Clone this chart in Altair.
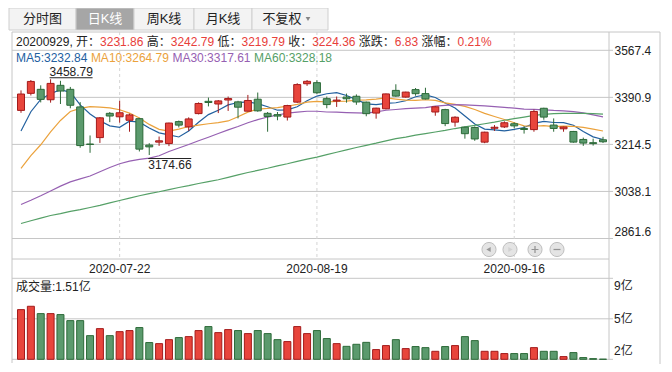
import altair as alt
import pandas as pd

# ---------------- data ----------------
dates = [
    "2020-07-08", "2020-07-09", "2020-07-10", "2020-07-13", "2020-07-14", "2020-07-15", "2020-07-16",
    "2020-07-17", "2020-07-20", "2020-07-21", "2020-07-22", "2020-07-23", "2020-07-24", "2020-07-27",
    "2020-07-28", "2020-07-29", "2020-07-30", "2020-07-31",
    "2020-08-03", "2020-08-04", "2020-08-05", "2020-08-06", "2020-08-07", "2020-08-10", "2020-08-11",
    "2020-08-12", "2020-08-13", "2020-08-14", "2020-08-17", "2020-08-18", "2020-08-19", "2020-08-20",
    "2020-08-21", "2020-08-24", "2020-08-25", "2020-08-26", "2020-08-27", "2020-08-28", "2020-08-31",
    "2020-09-01", "2020-09-02", "2020-09-03", "2020-09-04", "2020-09-07", "2020-09-08", "2020-09-09",
    "2020-09-10", "2020-09-11", "2020-09-14", "2020-09-15", "2020-09-16", "2020-09-17", "2020-09-18",
    "2020-09-21", "2020-09-22", "2020-09-23", "2020-09-24", "2020-09-25", "2020-09-28", "2020-09-29",
]
opens = [3342, 3406, 3421, 3382, 3436, 3421, 3355, 3216, 3240, 3331,
         3318, 3305, 3311, 3212, 3223, 3218, 3300, 3280, 3330, 3376,
         3366, 3381, 3374, 3339, 3384, 3331, 3326, 3317, 3373, 3442,
         3446, 3386, 3377, 3392, 3395, 3373, 3332, 3348, 3417, 3392,
         3420, 3405, 3336, 3345, 3298, 3279, 3278, 3223, 3275, 3280,
         3292, 3274, 3270, 3350, 3287, 3273, 3263, 3233, 3221, 3231.86]
highs = [3417, 3456, 3436, 3458.79, 3453, 3430, 3373, 3248, 3317, 3336,
         3378, 3330, 3314, 3219, 3244, 3296, 3304, 3316, 3372, 3390,
         3381, 3394, 3378, 3400, 3409, 3336, 3336, 3363, 3444, 3456,
         3455, 3394, 3394, 3405, 3402, 3375, 3352, 3405, 3440, 3412,
         3426, 3427, 3358, 3348, 3320, 3281, 3282, 3262, 3287, 3301,
         3297, 3283, 3345, 3352, 3312, 3281, 3265, 3240, 3236, 3242.79]
lows = [3333, 3398, 3372, 3371, 3366, 3350, 3202, 3183, 3220, 3298,
        3296, 3262, 3188, 3174.66, 3209, 3208, 3278, 3265, 3327, 3357,
        3332, 3340, 3312, 3338, 3337, 3262, 3305, 3304, 3370, 3434,
        3404, 3350, 3355, 3371, 3363, 3320, 3311, 3346, 3393, 3390,
        3397, 3383, 3322, 3283, 3281, 3236, 3228, 3219, 3265, 3276,
        3275, 3255, 3262, 3307, 3262, 3262, 3221, 3209, 3210, 3219.79]
closes = [3403.44, 3450.59, 3383.32, 3443.29, 3414.62, 3361.30, 3210.10, 3214.13, 3314.15, 3320.90,
          3333.16, 3325.11, 3196.77, 3205.23, 3227.96, 3294.55, 3286.82, 3310.01, 3367.97, 3371.69,
          3377.56, 3386.46, 3354.04, 3379.25, 3340.29, 3319.27, 3320.73, 3360.10, 3438.80, 3451.09,
          3408.13, 3363.90, 3380.68, 3385.64, 3373.58, 3329.74, 3350.44, 3403.81, 3395.68, 3410.61,
          3404.80, 3384.98, 3355.37, 3292.59, 3316.42, 3254.63, 3234.82, 3260.35, 3278.81, 3295.68,
          3283.92, 3270.44, 3338.09, 3316.94, 3274.30, 3279.71, 3223.18, 3219.42, 3217.53, 3224.36]
volumes = [6.10, 6.41, 5.73, 5.73, 5.64, 5.08, 5.08, 3.69, 4.34, 3.69,
           4.06, 4.16, 4.44, 3.05, 2.95, 3.32, 3.51, 3.60, 4.16, 4.53,
           3.97, 4.25, 4.16, 3.88, 4.16, 3.88, 3.32, 3.14, 4.53, 3.88,
           4.16, 3.42, 2.95, 2.70, 2.89, 3.07, 2.40, 2.77, 3.32, 2.49,
           2.68, 2.58, 2.24, 2.68, 2.77, 3.60, 3.23, 2.24, 2.24, 2.03,
           2.03, 2.03, 2.58, 2.24, 2.24, 1.75, 2.12, 1.66, 1.56, 1.51]
ma5 = [3265.0, 3337.0, 3383.1, 3405.2, 3419.1, 3410.6, 3362.5, 3328.7, 3302.9, 3284.1,
       3278.5, 3301.5, 3298.0, 3276.2, 3257.6, 3249.9, 3242.3, 3264.9, 3297.5, 3326.2,
       3342.8, 3362.7, 3371.5, 3373.8, 3367.5, 3355.9, 3342.7, 3343.9, 3355.8, 3378.0,
       3395.8, 3404.4, 3408.5, 3397.9, 3382.4, 3366.7, 3364.0, 3368.6, 3370.7, 3378.1,
       3393.1, 3400.0, 3390.3, 3369.7, 3350.8, 3320.8, 3290.8, 3271.8, 3269.0, 3264.9,
       3270.7, 3277.8, 3293.4, 3301.0, 3296.7, 3295.9, 3286.4, 3262.7, 3242.8, 3232.84]
ma10 = [3124.7, 3172.7, 3213.1, 3261.3, 3304.3, 3337.8, 3349.8, 3355.9, 3354.0, 3351.6,
        3344.6, 3332.0, 3313.4, 3289.5, 3270.9, 3264.2, 3271.9, 3281.5, 3286.8, 3291.9,
        3296.4, 3302.5, 3318.2, 3335.6, 3346.9, 3349.3, 3352.7, 3357.7, 3364.8, 3372.8,
        3375.8, 3373.6, 3376.2, 3376.9, 3380.2, 3381.2, 3384.2, 3388.6, 3384.3, 3380.2,
        3379.9, 3382.0, 3379.5, 3370.2, 3364.4, 3356.9, 3345.4, 3331.0, 3319.3, 3307.8,
        3295.8, 3284.3, 3282.6, 3285.0, 3280.8, 3283.3, 3282.1, 3278.0, 3271.9, 3264.79]
ma30 = [2989, 3005, 3022, 3040, 3058, 3074, 3085, 3096, 3112, 3128,
        3142, 3152, 3158, 3163, 3172, 3188, 3201, 3214, 3228.0, 3241.5,
        3255.2, 3269.1, 3281.6, 3295.5, 3307.3, 3317.1, 3324.8, 3331.7, 3335.2, 3338.8,
        3338.9, 3336.0, 3335.9, 3334.0, 3332.6, 3331.6, 3336.3, 3342.6, 3345.3, 3348.3,
        3350.7, 3352.7, 3358.0, 3360.9, 3363.8, 3362.5, 3360.8, 3359.1, 3356.1, 3353.6,
        3350.5, 3346.6, 3346.1, 3344.0, 3341.8, 3340.5, 3337.2, 3332.6, 3325.2, 3317.61]
ma60 = [2918, 2928, 2938, 2948, 2955, 2963, 2970, 2978, 2986, 2995,
        3004, 3013, 3022, 3030, 3037, 3045, 3053, 3060, 3068, 3075,
        3082, 3091, 3100, 3109, 3117, 3125, 3134, 3142, 3151, 3159,
        3167, 3176, 3185, 3194, 3203, 3211, 3219, 3228, 3236, 3242,
        3249, 3255, 3261, 3267, 3274, 3280, 3286, 3292, 3298, 3305,
        3311, 3317, 3323, 3327, 3330, 3331, 3331, 3331, 3330, 3328.18]

price_ticks = [3567.4, 3390.9, 3214.5, 3038.1, 2861.6]
vol_ticks = [9.0, 5.25, 1.5]
vol_tick_labels = ["9亿", "5亿", "2亿"]
date_labels = ["2020-07-22", "2020-08-19", "2020-09-16"]
tab_labels = ["分时图", "日K线", "周K线", "月K线", "不复权"]
ma_names = ["MA5", "MA10", "MA30", "MA60"]

# ---------------- styles ----------------
FONT = "Liberation Sans, Noto Sans CJK SC, sans-serif"
RED_FILL, RED_LINE = "#e8453c", "#a31b1b"
GRN_FILL, GRN_LINE = "#5b9a6d", "#2c6a38"
MA_COLORS = ["#22609f", "#eba23c", "#9660b2", "#55a067"]
GRID = "#c6c6c6"
DARK = "#222222"
TXT_RED = "#e8403a"

df = pd.DataFrame(dict(date=dates, open=opens, high=highs, low=lows, close=closes, vol=volumes))
df["dir"] = ["up" if c >= o else "down" for o, c in zip(opens, closes)]

ma_df = pd.concat([
    pd.DataFrame(dict(date=dates, value=vals, ma=name))
    for name, vals in zip(ma_names, [ma5, ma10, ma30, ma60])
])

X = alt.X("date:O", scale=alt.Scale(type="point", domain=dates, range=[13, 595], padding=0), axis=None)
PY = alt.Scale(domain=[2861.6, 3567.4], range=[230.5, 42.3], nice=False, zero=False)
VY = alt.Scale(domain=[1.5, 9.0], range=[351.3, 270.3], nice=False, zero=False)
FILL = alt.Fill("dir:N", scale=alt.Scale(domain=["up", "down"], range=[RED_FILL, GRN_FILL]), legend=None)
STROKE = alt.Stroke("dir:N", scale=alt.Scale(domain=["up", "down"], range=[RED_LINE, GRN_LINE]), legend=None)

ONE = pd.DataFrame({"k": [1]})


def vtext(txt, x, y, color=DARK, size=12, align="left", baseline="middle"):
    return alt.Chart(ONE).mark_text(text=txt, align=align, baseline=baseline, color=color,
                                    fontSize=size, font=FONT).encode(x=alt.value(x), y=alt.value(y))


def vline(x1, y1, x2, y2, color=GRID, dash=None):
    kw = dict(color=color, strokeWidth=1)
    if dash:
        kw["strokeDash"] = dash
    return alt.Chart(ONE).mark_rule(**kw).encode(
        x=alt.value(x1), y=alt.value(y1), x2=alt.value(x2), y2=alt.value(y2))


def vrect(x1, y1, x2, y2, fill, stroke):
    return alt.Chart(ONE).mark_rect(fill=fill, stroke=stroke, strokeWidth=1).encode(
        x=alt.value(x1), y=alt.value(y1), x2=alt.value(x2), y2=alt.value(y2))


CHAR_W = {".": 0.278, ",": 0.278, " ": 0.278, ":": 0.278, "%": 0.889, "M": 0.833, "A": 0.667, "K": 0.667}


def tw(s, size=12):
    w = 0
    for ch in s:
        if ord(ch) > 0x2E80:
            w += 1.0
        else:
            w += CHAR_W.get(ch, 0.556)
    return w * size


def segments(segs, x0, y, gap=0.0):
    layers = []
    cur = x0
    for s, col in segs:
        lead = len(s) - len(s.lstrip(" "))
        layers.append(vtext(s.strip(), cur + tw(" " * lead), y, color=col))
        cur += tw(s) + gap
    return layers


# ---------------- background decorations ----------------
back = []
tab_edges = [1, 68, 126, 186, 244, 320]
for i, lab in enumerate(tab_labels):
    sel = (i == 1)
    back.append(vrect(tab_edges[i], 0, tab_edges[i + 1], 22, "#a6a6a6" if sel else "#f3f3f3", "#cfcfcf"))
    cx = (tab_edges[i] + tab_edges[i + 1]) / 2
    if lab == "不复权":
        cx -= 8
    back.append(vtext(lab, cx, 11, color="#ffffff" if sel else DARK, size=13, align="center"))
back.append(alt.Chart(ONE).mark_point(shape="triangle-down", filled=True, size=22, color="#555555")
            .encode(x=alt.value(300), y=alt.value(11)))
# frame
back += [
    vline(4, 24, 652, 24),
    vline(4, 24, 4, 355),
    vline(652, 24, 652, 356),
    vline(601, 24, 601, 352),
    vline(4, 251, 601, 251),
]

# ---------------- price panel ----------------
pt_df = pd.DataFrame({"v": price_ticks})
dl_df = pd.DataFrame({"date": date_labels})

grid = alt.Chart(pt_df).mark_rule(color=GRID, strokeWidth=1).encode(
    y=alt.Y("v:Q", scale=PY, axis=None), x=alt.value(4), x2=alt.value(605))
plab_mid = alt.Chart(pt_df).transform_filter("datum.v > 2900").mark_text(
    align="left", baseline="middle", dy=1, font=FONT, fontSize=12, color=DARK).encode(
    y=alt.Y("v:Q", scale=PY, axis=None), x=alt.value(606.5), text=alt.Text("v:Q", format=".1f"))
plab_low = alt.Chart(pt_df).transform_filter("datum.v <= 2900").mark_text(
    align="left", baseline="bottom", dy=0, font=FONT, fontSize=12, color=DARK).encode(
    y=alt.Y("v:Q", scale=PY, axis=None), x=alt.value(606.5), text=alt.Text("v:Q", format=".1f"))
dash = alt.Chart(dl_df).mark_rule(color="#d4d4d4", strokeDash=[3, 3], strokeWidth=1).encode(
    x=X, y=alt.value(24), y2=alt.value(251))
dlab = alt.Chart(dl_df).mark_text(font=FONT, fontSize=12, color=DARK, baseline="middle").encode(
    x=X, y=alt.value(260.5), text="date:N")
ma_lines = alt.Chart(ma_df).mark_line(strokeWidth=1.2).encode(
    x=X, y=alt.Y("value:Q", scale=PY, axis=None),
    color=alt.Color("ma:N", scale=alt.Scale(domain=ma_names, range=MA_COLORS), legend=None))
wicks = alt.Chart(df).mark_rule(strokeWidth=1).encode(
    x=X, y=alt.Y("low:Q", scale=PY, axis=None), y2="high:Q", stroke=STROKE)
bodies = alt.Chart(df).mark_bar(size=7, strokeWidth=1).encode(
    x=X, y=alt.Y("open:Q", scale=PY, axis=None), y2="close:Q", fill=FILL, stroke=STROKE)

hi = max(range(len(highs)), key=lambda i: highs[i])
lo = min(range(len(lows)), key=lambda i: lows[i])
hi_df = pd.DataFrame({"date": [dates[hi]], "val": [highs[hi]], "label": [f"{highs[hi]:.2f}"]})
lo_df = pd.DataFrame({"date": [dates[lo]], "val": [lows[lo]], "label": [f"{lows[lo]:.2f}"]})
hi_txt = alt.Chart(hi_df).mark_text(align="left", baseline="bottom", dx=-1, dy=-0.5, font=FONT,
                                    fontSize=12, color=DARK).encode(
    x=X, y=alt.Y("val:Q", scale=PY, axis=None), text="label:N")
hi_line = alt.Chart(hi_df).mark_rule(color=DARK, strokeWidth=1, xOffset=-1, x2Offset=42, yOffset=-1.5).encode(
    x=X, x2="date:O", y=alt.Y("val:Q", scale=PY, axis=None))
lo_txt = alt.Chart(lo_df).mark_text(align="left", baseline="top", dx=-1, dy=5, font=FONT,
                                    fontSize=12, color=DARK).encode(
    x=X, y=alt.Y("val:Q", scale=PY, axis=None), text="label:N")
lo_line = alt.Chart(lo_df).mark_rule(color=DARK, strokeWidth=1, xOffset=-1, x2Offset=42, yOffset=3.5).encode(
    x=X, x2="date:O", y=alt.Y("val:Q", scale=PY, axis=None))

price = alt.layer(grid, plab_mid, plab_low, dash, dlab, ma_lines, wicks, bodies,
                  hi_line, hi_txt, lo_line, lo_txt)

# ---------------- volume panel ----------------
vt_df = pd.DataFrame({"v": vol_ticks, "label": vol_tick_labels, "pos": ["top", "mid", "bot"]})
vgrid = alt.Chart(vt_df).mark_rule(color=GRID, strokeWidth=1).encode(
    y=alt.Y("v:Q", scale=VY, axis=None), x=alt.value(4), x2=alt.value(605))
vlabs = []
for pos, base, dy in [("top", "top", 3), ("mid", "middle", 0), ("bot", "bottom", -1)]:
    vlabs.append(alt.Chart(vt_df).transform_filter(f"datum.pos == '{pos}'").mark_text(
        align="left", baseline=base, dy=dy, font=FONT, fontSize=12, color=DARK).encode(
        y=alt.Y("v:Q", scale=VY, axis=None), x=alt.value(606), text="label:N"))
vbars = alt.Chart(df).mark_bar(size=7, strokeWidth=1).encode(
    x=X, y=alt.Y("vol:Q", scale=VY, axis=None), y2=alt.datum(1.5), fill=FILL, stroke=STROKE)
volume = alt.layer(vgrid, *vlabs, vbars)

# ---------------- foreground texts ----------------
last = len(dates) - 1
chg = closes[last] - closes[last - 1]
pct = chg / closes[last - 1] * 100
info = [
    (f"{dates[last].replace('-', '')}, 开：", DARK), (f"{opens[last]:.2f}", TXT_RED),
    (" 高：", DARK), (f"{highs[last]:.2f}", TXT_RED),
    (" 低：", DARK), (f"{lows[last]:.2f}", TXT_RED),
    (" 收：", DARK), (f"{closes[last]:.2f}", TXT_RED),
    (" 涨跌：", DARK), (f"{chg:.2f}", TXT_RED),
    (" 涨幅：", DARK), (f"{pct:.2f}%", TXT_RED),
]
front = segments(info, 8, 33.7)
ma_segs = [(f"{n}:{v[-1]:.2f}", c) for n, v, c in zip(ma_names, [ma5, ma10, ma30, ma60], MA_COLORS)]
front += segments(ma_segs, 8, 50, gap=3.5)
front.append(vtext(f"成交量:{volumes[last]:.2f}亿", 8, 279.3))

# navigation buttons
for bx in [481, 502, 527, 549]:
    front.append(alt.Chart(ONE).mark_point(shape="circle", filled=True, size=200, fill="#e4e4e4",
                                           stroke="#bfbfbf", strokeWidth=1, opacity=1)
                 .encode(x=alt.value(bx), y=alt.value(241.5)))
front.append(alt.Chart(ONE).mark_point(shape="triangle-left", filled=True, size=26, color="#979797", opacity=1)
             .encode(x=alt.value(480.5), y=alt.value(241.5)))
front.append(alt.Chart(ONE).mark_point(shape="triangle-right", filled=True, size=26, color="#d2d2d2", opacity=1)
             .encode(x=alt.value(502.5), y=alt.value(241.5)))
PLUS = "M-1,-0.18H-0.18V-1H0.18V-0.18H1V0.18H0.18V1H-0.18V0.18H-1Z"
MINUS = "M-1,-0.18H1V0.18H-1Z"
front.append(alt.Chart(ONE).mark_point(shape=PLUS, filled=True, size=48, color="#939393", opacity=1)
             .encode(x=alt.value(527), y=alt.value(241.5)))
front.append(alt.Chart(ONE).mark_point(shape=MINUS, filled=True, size=48, color="#939393", opacity=1)
             .encode(x=alt.value(549), y=alt.value(241.5)))

chart = alt.layer(*back, price, volume, *front).resolve_scale(y="independent").properties(
    width=656, height=356, autosize=alt.AutoSizeParams(type="none"), padding=0,
    background="#ffffff",
).configure_view(strokeWidth=0)

chart.save("out.html", embed_options={"renderer": "svg", "actions": False})
